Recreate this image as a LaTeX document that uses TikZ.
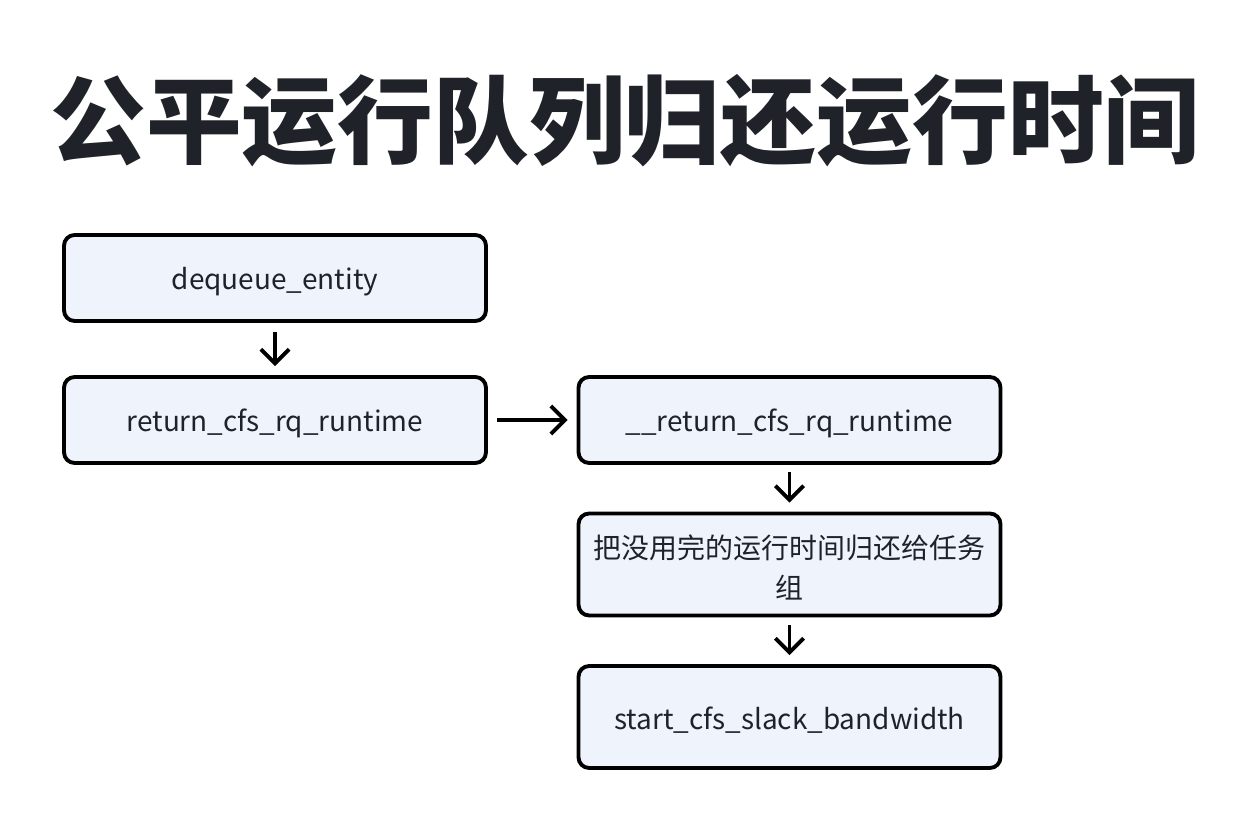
\documentclass[tikz,border=0pt]{standalone}
\usepackage{fontspec}
\setmainfont{Noto Sans CJK SC}
\usetikzlibrary{arrows.meta}
\definecolor{boxfill}{HTML}{EEF3FC}
\definecolor{ink}{HTML}{1F2329}

\begin{document}
\begin{tikzpicture}[x=0.02cm,y=-0.02cm,
  stepbox/.style={draw=black,line width=2.2pt,fill=boxfill,rounded corners=6pt,
    minimum width=8.44cm,minimum height=1.72cm,text=ink,align=center,
    text width=7.9cm,font=\fontsize{15.9}{22.7}\selectfont,inner sep=0pt,
    execute at begin node={\rule{0pt}{17pt}}},
  tallbox/.style={stepbox,minimum height=2.04cm},
  flow/.style={line width=2.2pt,-{Straight Barb[length=8pt,width=16pt]}}]
  \useasboundingbox (0,0) rectangle (1248,820);
  \node[text=ink,font=\fontsize{54.5}{60}\selectfont\bfseries] (title) at (625,121) {公平运行队列归还运行时间};
  \node[stepbox] (deq) at (275,278) {dequeue\_entity};
  \node[stepbox] (ret) at (275,420) {return\_cfs\_rq\_runtime};
  \node[stepbox] (uret) at (789.5,420) {\_\_return\_cfs\_rq\_runtime};
  \node[tallbox] (give) at (789.5,564.5) {把没用完的运行时间归还给任务\\组};
  \node[tallbox] (slack) at (789.5,717) {start\_cfs\_slack\_bandwidth};
  \draw[flow,shorten <=0.18cm,shorten >=0.18cm] (deq) -- (ret);
  \draw[flow,shorten <=0.18cm,shorten >=0.18cm] (ret) -- (uret);
  \draw[flow,shorten <=0.14cm,shorten >=0.18cm] (uret) -- (give);
  \draw[flow,shorten <=0.16cm,shorten >=0.18cm] (give) -- (slack);
\end{tikzpicture}
\end{document}
